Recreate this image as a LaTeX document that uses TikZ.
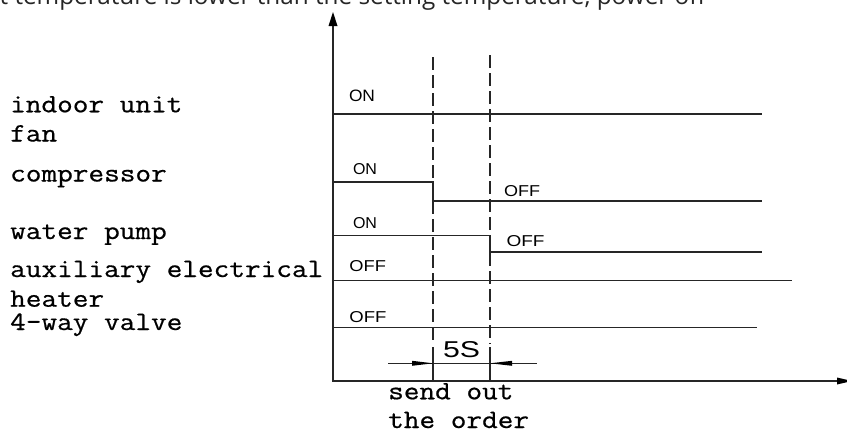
\documentclass[tikz,border=0pt]{standalone}
\usepackage{fontspec}
\newfontfamily\cadfont{Liberation Sans}
\newfontfamily\topfont{Open Sans}
\newfontfamily\labelmono[FakeBold=0.6]{Latin Modern Mono}
\newcommand\cadtxt[3]{\resizebox{#2}{#3}{\cadfont #1}}
\newcommand\monotxt[1]{\scalebox{1.147}[1]{#1}}
\begin{document}
\begin{tikzpicture}[x=1pt,y=-1pt,
  sig/.style={line width=1.25pt, draw=black!85},
  guide/.style={line width=1.25pt, draw=black!85, dash pattern=on 13pt off 5pt},
  lbl/.style={anchor=base west, inner sep=0pt, font=\labelmono\fontsize{26.5}{26.5}\selectfont},
  st/.style={inner sep=0pt, anchor=center}]
\useasboundingbox (0,0) rectangle (847,431);
\clip (0,0) rectangle (847,431);

% top (clipped) caption
\node[anchor=base east, inner sep=0pt, text=black!85] (cap) at (706,4.5)
  {\resizebox{706pt}{!}{\topfont t temperature is lower than the setting temperature, power off}};

% axes
\draw[sig] (333,26) -- (333,381) -- (840,381);
\fill[black] (333,12) -- (337.5,26) -- (328.5,26) -- cycle;
\fill[black] (852,381) -- (837,377.5) -- (837,384.5) -- cycle;

% guides
\draw[guide] (433,57) -- (433,344);
\draw[sig] (433,347) -- (433,381);
\draw[guide] (490,55) -- (490,344);
\draw[sig] (490,347) -- (490,381);

% signals
\draw[sig] (333,114) -- (762,114);
\draw[sig] (333,182) -- (433,182) -- (433,201) -- (762,201);
\draw[sig] (333,235.7) -- (490,235.7) -- (490,252) -- (762,252);
\draw[sig] (333,280.5) -- (792,280.5);
\draw[sig] (333,327.7) -- (757,327.7);

% dimension
\draw[line width=1pt, black!85] (388,363.3) -- (537,363.3);
\fill[black] (433,363.3) -- (412,360.8) -- (412,365.8) -- cycle;
\fill[black] (490,363.3) -- (512,360.8) -- (512,365.8) -- cycle;
\node[st] (five) at (461.5,350) {\cadtxt{5S}{37pt}{16pt}};

% state labels
\node[st] (on1) at (362,95.7) {\cadtxt{ON}{26pt}{11.5pt}};
\node[st] (on2) at (365,169) {\cadtxt{ON}{24pt}{11pt}};
\node[st] (off2) at (522,191) {\cadtxt{OFF}{36pt}{11pt}};
\node[st] (on3) at (365,222.7) {\cadtxt{ON}{24pt}{11pt}};
\node[st] (off3) at (525.5,240.7) {\cadtxt{OFF}{38pt}{11pt}};
\node[st] (off4) at (367.7,265.7) {\cadtxt{OFF}{36.5pt}{11pt}};
\node[st] (off5) at (368,317) {\cadtxt{OFF}{37pt}{11pt}};

% left labels
\node[lbl] (l1) at (10,112.3) {\monotxt{indoor unit}};
\node[lbl] (l2) at (10,141.5) {\monotxt{fan}};
\node[lbl] (l3) at (10,181.5) {\monotxt{compressor}};
\node[lbl] (l4) at (10,239) {\monotxt{water pump}};
\node[lbl] (l5) at (10,277) {\monotxt{auxiliary electrical}};
\node[lbl] (l6) at (10,306.7) {\monotxt{heater}};
\node[lbl] (l7) at (10,330) {\monotxt{4-way valve}};

% bottom label
\node[lbl] (s1) at (388,399.3) {\monotxt{send out}};
\node[lbl] (s2) at (388,428) {\monotxt{the order}};
\end{tikzpicture}
\end{document}
